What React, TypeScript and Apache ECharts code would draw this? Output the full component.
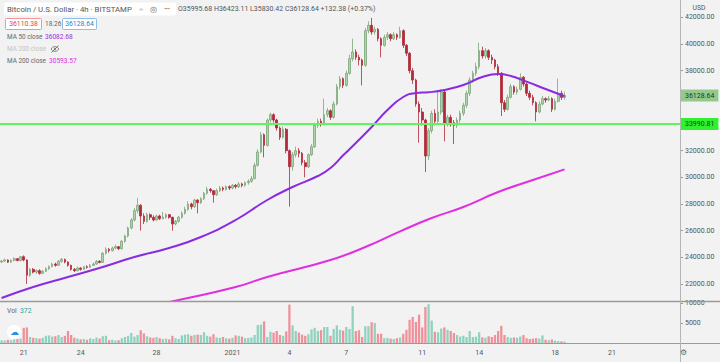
import React, { useEffect, useRef } from "react";
import * as echarts from "echarts";

// ---------- data ----------
const TOTAL_SLOTS = 215; // 4h slots shown on the time axis (incl. empty future space)
const TICK_SLOTS = [7, 25, 49, 73, 91, 109, 133, 151, 175, 193];
const TICK_LABELS = ["21", "24", "28", "2021", "4", "7", "11", "14", "18", "21"];
const PRICE_TICKS = [22000, 24000, 26000, 28000, 30000, 32000, 38000, 40000, 42000];
const VOLUME_TICKS = [5000, 10000];

// [open, close, low, high] per 4h candle
const CANDLES: number[][] = [
  [23650, 23720, 23580, 23800], [23720, 23800, 23650, 23900], [23800, 23640, 23580, 23850], [23640, 23780, 23600, 23850],
  [23780, 23900, 23700, 24000], [23900, 23760, 23700, 23950], [23760, 24050, 23700, 24100], [24050, 23800, 23700, 24150],
  [23800, 22650, 22000, 23850], [22650, 23100, 22550, 23200],
  [23100, 22900, 22800, 23200], [22900, 23000, 22750, 23100], [23000, 22800, 22700, 23100], [22800, 22950, 22750, 23050],
  [22950, 23150, 22900, 23250], [23150, 23300, 23050, 23400], [23300, 23500, 23250, 23600], [23500, 23400, 23300, 23600],
  [23400, 23700, 23350, 23800], [23700, 23850, 23600, 23950],
  [23850, 23650, 23550, 23900], [23650, 23400, 23300, 23700], [23400, 23100, 23000, 23450], [23100, 23000, 22900, 23200],
  [23000, 23200, 22950, 23300], [23200, 23100, 23000, 23250], [23100, 23300, 23050, 23350], [23300, 23250, 23150, 23400],
  [23250, 23400, 23200, 23500], [23400, 23500, 23350, 23600],
  [23500, 23700, 23450, 23800], [23700, 23620, 23550, 23780], [23620, 24300, 23600, 24400], [24300, 24600, 24200, 24750],
  [24600, 24500, 24350, 24700], [24500, 24700, 24450, 24800], [24700, 24800, 24600, 24950], [24800, 24650, 24550, 24850],
  [24650, 25200, 24600, 25300], [25200, 25600, 25100, 25700],
  [25600, 26200, 25500, 26300], [26200, 26800, 26100, 26950], [26800, 27500, 26700, 27700], [27500, 27900, 27300, 28450],
  [27900, 27100, 26000, 28000], [27100, 26700, 26500, 27300], [26700, 27200, 26600, 27350], [27200, 27000, 26800, 27300],
  [27000, 26800, 26700, 27150], [26800, 27100, 26750, 27200],
  [27100, 26900, 26800, 27200], [26900, 27000, 26850, 27400], [27000, 27200, 26900, 27300], [27200, 27000, 26900, 27250],
  [27000, 26500, 26000, 27050], [26500, 26700, 26400, 26800], [26700, 27000, 26600, 27100], [27000, 27300, 26900, 27450],
  [27300, 27600, 27200, 27800], [27600, 28000, 27500, 28200],
  [28000, 27800, 27600, 28100], [27800, 28300, 27700, 28400], [28300, 28100, 27300, 28350], [28100, 28400, 28000, 28500],
  [28400, 28800, 28300, 28900], [28800, 29100, 28700, 29300], [29100, 29000, 28850, 29200], [29000, 28700, 28100, 29050],
  [28700, 29000, 28600, 29150], [29000, 29200, 28900, 29350],
  [29200, 29100, 28950, 29300], [29100, 29300, 29000, 29400], [29300, 29200, 29050, 29400], [29200, 29400, 29100, 29500],
  [29400, 29300, 29150, 29500], [29300, 29500, 29200, 29650], [29500, 29400, 29250, 29600], [29400, 29600, 29300, 29700],
  [29600, 29700, 29450, 29850], [29700, 29900, 29600, 30100],
  [29900, 30900, 29850, 31100], [30900, 31900, 30800, 32100], [31900, 33200, 31800, 33400], [33200, 32400, 31500, 33300],
  [32400, 34300, 32300, 34400], [34300, 34700, 34100, 34850], [34700, 34300, 34100, 34800], [34300, 33700, 33500, 34400],
  [33700, 33000, 32800, 33800], [33000, 33600, 32900, 33800],
  [33600, 32000, 31800, 33700], [32000, 30800, 27800, 32100], [30800, 31700, 30500, 31900], [31700, 32000, 31500, 32300],
  [32000, 31800, 31500, 32200], [31800, 31100, 30900, 31900], [31100, 30800, 30000, 31300], [30800, 31700, 30700, 31800],
  [31700, 32300, 31600, 32500], [32300, 33900, 32200, 34100],
  [33900, 34200, 33700, 34400], [34200, 34000, 33800, 34400], [34000, 34700, 33900, 35900], [34700, 35000, 34500, 35200],
  [35000, 34500, 34300, 35100], [34500, 35500, 34400, 35700], [35500, 36800, 35400, 37000], [36800, 37400, 36600, 37600],
  [37400, 36900, 36700, 37500], [36900, 37800, 36800, 38000],
  [37800, 38900, 37700, 39200], [38900, 39400, 38700, 40400], [39400, 39000, 38800, 39600], [39000, 38800, 38400, 39200],
  [38800, 38400, 36900, 38900], [38400, 41000, 38300, 41200], [41000, 41400, 40800, 41700], [41400, 40900, 40700, 41950],
  [40900, 41100, 40700, 41300], [41100, 40400, 40200, 41200],
  [40400, 39900, 39000, 40500], [39900, 40500, 39800, 40700], [40500, 40700, 40300, 40900], [40700, 40400, 40200, 40800],
  [40400, 40700, 40300, 40900], [40700, 40500, 40300, 40800], [40500, 41000, 40400, 41300], [41000, 39900, 39700, 41100],
  [39900, 39300, 39100, 40000], [39300, 38000, 37800, 39400],
  [38000, 37300, 37000, 38200], [37300, 35500, 35300, 37400], [35500, 34900, 32600, 35700], [34900, 34300, 33900, 35200],
  [34300, 31600, 30400, 34400], [31600, 33500, 31300, 33700], [33500, 34800, 33300, 35000], [34800, 34200, 33900, 35100],
  [34200, 34900, 34000, 36500], [34900, 36400, 34700, 36600],
  [36400, 34000, 32700, 36500], [34000, 34500, 33800, 34700], [34500, 34100, 33800, 34700], [34100, 33900, 32500, 34300],
  [33900, 34300, 33700, 34500], [34300, 34800, 34100, 35000], [34800, 35400, 34600, 35600], [35400, 36300, 35200, 36500],
  [36300, 37300, 36100, 37500], [37300, 37800, 37100, 38000],
  [37800, 38300, 37600, 38600], [38300, 39500, 38100, 40100], [39500, 39100, 38900, 39800], [39100, 39500, 38900, 39700],
  [39500, 39000, 38800, 39600], [39000, 38800, 38500, 39200], [38800, 38300, 38100, 38900], [38300, 37800, 37600, 38500],
  [37800, 35600, 34600, 37900], [35600, 35100, 34900, 35800],
  [35100, 36000, 35000, 36200], [36000, 36800, 35900, 37000], [36800, 36400, 36200, 36900], [36400, 36600, 36200, 36800],
  [36600, 37500, 36500, 37800], [37500, 37000, 36800, 37600], [37000, 36300, 36100, 37100], [36300, 36000, 35800, 36500],
  [36000, 35600, 35400, 36200], [35600, 34900, 34200, 35700],
  [34900, 35500, 34800, 35700], [35500, 35900, 35400, 36100], [35900, 35800, 35600, 36000], [35800, 35900, 35700, 36100],
  [35900, 35100, 34900, 36000], [35100, 35700, 35000, 35900], [35700, 36300, 35600, 37400], [36300, 35996, 35800, 36500],
  [35996.26, 36128.64, 35830.42, 36423.11],
];

const VOLUMES = [
  700, 600, 800, 700, 900, 1000, 1100, 3800, 3900, 1500,
  1300, 1200, 1100, 1300, 1800, 1900, 1600, 1700, 2000, 1500,
  1800, 3000, 2000, 1300, 1100, 900, 1000, 800, 1200, 1000,
  1400, 1100, 1700, 1800, 700, 800, 600, 700, 1200, 1500,
  1800, 2500, 1600, 2000, 3200, 2400, 1700, 1400, 1300, 1500,
  1200, 1000, 1100, 900, 1800, 1200, 1000, 1900, 2100, 2200,
  1800, 2000, 2100, 2000, 2700, 1800, 1600, 2200, 1400, 1300,
  1500, 1200, 1100, 1300, 1900, 1800, 1600, 1200, 1300, 1400,
  2000, 4500, 4600, 5400, 1500, 2800, 2600, 3000, 2000, 1800,
  2900, 9600, 4400, 3000, 2600, 2100, 1800, 2200, 3400, 3800,
  3000, 3200, 4000, 4000, 1800, 3500, 4400, 3300, 3100, 4000,
  3500, 9200, 3000, 3200, 1500, 4200, 4200, 5200, 5000, 2300,
  2300, 1200, 1300, 1100, 1000, 1200, 1400, 2300, 3300, 5800,
  6500, 5250, 7100, 3900, 9000, 9700, 5600, 2800, 2700, 3600,
  3900, 3300, 3000, 2500, 2000, 1600, 1800, 1500, 3000, 1500,
  1600, 2700, 1400, 1300, 1700, 1500, 2000, 3000, 4300, 2000,
  1500, 1300, 1400, 1300, 1600, 2000, 1200, 1000, 1100, 1200,
  1100, 1900, 800, 700, 900, 600, 500, 400, 372,
];

const MA50_SLOTS = [0, 10, 21, 32, 42, 53, 63, 74, 84, 92, 100, 104, 108, 112, 117, 122, 127, 131, 135, 140, 146, 152, 157, 161, 166, 172, 178];
const MA50_VALUES = [20950, 21775, 22525, 23275, 24025, 24700, 25525, 26800, 28300, 29275, 30100, 30700, 31650, 32575, 33775, 35050, 36025, 36325, 36380, 36550, 36925, 37525, 37750, 37600, 37175, 36625, 36082.68];

const MA200_SLOTS = [46, 56, 74, 84, 104, 115, 126, 136, 146, 157, 168, 178];
const MA200_VALUES = [20300, 20800, 21775, 22525, 23800, 24775, 25950, 26950, 27775, 28900, 29800, 30593.57];

const SUPPORT_LEVEL = 33990.81;
const LAST_PRICE = 36128.64;
const BID_PRICE = 36110.38;
const SPREAD = 18.26;
const LAST_VOLUME = 372;
const OHLC_TEXT = "O35995.68 H36423.11 L35830.42 C36128.64 +132.38 (+0.37%)";

// ---------- style ----------
const BG = "#f2f2f2";
const FONT = "Roboto";
const UP = "#a9d6a3";
const UP_BORDER = "#7da57a";
const DOWN = "#b12a3b";
const VOL_UP = "#8fd3bf";
const VOL_DOWN = "#ef919a";
const MA50_COLOR = "#8a2be2";
const MA200_COLOR = "#e02ee0";

function txt(text: string, x: number, y: number, fill: string, size = 6.8, align = "left") {
  return {
    type: "text",
    x,
    y,
    z: 100,
    silent: true,
    style: {
      text,
      fill,
      font: `${size}px ${FONT}`,
      textAlign: align,
      align,
      textVerticalAlign: "middle",
      verticalAlign: "middle",
    },
  };
}

function buildOption(): any {
  const cats = Array.from({ length: TOTAL_SLOTS }, (_, i) => String(i));
  const volData = VOLUMES.map((v, i) => ({
    value: v,
    itemStyle: { color: CANDLES[i][1] >= CANDLES[i][0] ? VOL_UP : VOL_DOWN },
  }));
  const tagLabel = (value: number, bg: string) => ({
    show: true,
    position: "end",
    distance: 1,
    formatter: value.toFixed(2),
    backgroundColor: bg,
    color: "#1f3a1f",
    fontFamily: FONT,
    fontSize: 7,
    padding: [3, 4, 2, 4],
  });

  return {
    animation: false,
    backgroundColor: BG,
    grid: [
      { left: 0, right: 40, top: 0, height: 301 },
      { left: 0, right: 40, top: 302, height: 41 },
    ],
    xAxis: [
      {
        type: "category",
        gridIndex: 0,
        data: cats,
        boundaryGap: true,
        axisLine: { show: false },
        axisTick: { show: false },
        axisLabel: { show: false },
        splitLine: { show: false },
      },
      {
        type: "category",
        gridIndex: 1,
        data: cats,
        boundaryGap: true,
        axisLine: { show: false },
        axisTick: { show: false },
        splitLine: { show: false },
        axisLabel: {
          interval: (index: number) => TICK_SLOTS.includes(index),
          formatter: (_v: string, index: number) => {
            const k = TICK_SLOTS.indexOf(index);
            return k >= 0 ? TICK_LABELS[k] : "";
          },
          color: "#555",
          fontFamily: FONT,
          fontSize: 7,
          margin: 6,
        },
      },
    ],
    yAxis: [
      {
        type: "value",
        gridIndex: 0,
        position: "right",
        min: 20725,
        max: 43300,
        splitLine: { show: false },
        axisLine: { show: false },
        axisTick: { show: true, length: 3, lineStyle: { color: "#999" }, customValues: PRICE_TICKS },
        axisLabel: {
          customValues: PRICE_TICKS,
          formatter: (v: number) => v.toFixed(2),
          color: "#555",
          fontFamily: FONT,
          fontSize: 7,
          margin: 5,
        },
      },
      {
        type: "value",
        gridIndex: 1,
        position: "right",
        min: 0,
        max: 10250,
        splitLine: { show: false },
        axisLine: { show: false },
        axisTick: { show: true, length: 3, lineStyle: { color: "#999" }, customValues: VOLUME_TICKS },
        axisLabel: {
          customValues: VOLUME_TICKS,
          formatter: (v: number) => String(v),
          color: "#555",
          fontFamily: FONT,
          fontSize: 7,
          margin: 5,
        },
      },
    ],
    series: [
      {
        type: "candlestick",
        xAxisIndex: 0,
        yAxisIndex: 0,
        data: CANDLES,
        barWidth: "66%",
        itemStyle: {
          color: UP,
          color0: DOWN,
          borderColor: UP_BORDER,
          borderColor0: DOWN,
          borderWidth: 0.8,
        },
        markLine: {
          silent: true,
          symbol: ["none", "none"],
          animation: false,
          data: [
            {
              yAxis: SUPPORT_LEVEL,
              lineStyle: { color: "#5ef55e", width: 2, type: "solid" },
              label: tagLabel(SUPPORT_LEVEL, "#30f030"),
            },
          ],
        },
      },
      {
        // invisible carrier for the last-price tag on the price scale
        type: "line",
        xAxisIndex: 0,
        yAxisIndex: 0,
        data: [],
        silent: true,
        markLine: {
          silent: true,
          symbol: ["none", "none"],
          animation: false,
          data: [
            {
              yAxis: LAST_PRICE,
              lineStyle: { color: "rgba(0,0,0,0)", width: 1 },
              label: tagLabel(LAST_PRICE, "#93c98b"),
            },
          ],
        },
      },
      {
        type: "line",
        name: "MA 50",
        xAxisIndex: 0,
        yAxisIndex: 0,
        data: MA50_SLOTS.map((s, k) => [s, MA50_VALUES[k]]),
        smooth: 0.5,
        showSymbol: false,
        lineStyle: { color: MA50_COLOR, width: 2 },
        silent: true,
      },
      {
        type: "line",
        name: "MA 200",
        xAxisIndex: 0,
        yAxisIndex: 0,
        data: MA200_SLOTS.map((s, k) => [s, MA200_VALUES[k]]),
        smooth: 0.5,
        showSymbol: false,
        lineStyle: { color: MA200_COLOR, width: 2 },
        silent: true,
      },
      {
        type: "bar",
        xAxisIndex: 1,
        yAxisIndex: 1,
        data: volData,
        barWidth: "72%",
        silent: true,
      },
    ],
    graphic: [
      // pane separators and price-scale border
      { type: "line", z: 90, silent: true, shape: { x1: 0, y1: 301.5, x2: 720, y2: 301.5 }, style: { stroke: "#9a9a9a", lineWidth: 1.6 } },
      { type: "line", z: 90, silent: true, shape: { x1: 0, y1: 343.5, x2: 720, y2: 343.5 }, style: { stroke: "#9a9a9a", lineWidth: 1.2 } },
      { type: "line", z: 90, silent: true, shape: { x1: 680.5, y1: 0, x2: 680.5, y2: 362 }, style: { stroke: "#b5b5b5", lineWidth: 1 } },
      txt("USD", 699, 8, "#555", 6.8, "center"),
      txt("⚙", 683, 352, "#666", 8, "center"),
      // header
      { type: "rect", z: 100, silent: true, shape: { x: 4, y: 2.5, width: 172, height: 13, r: 2 }, style: { fill: "#ffffff" } },
      txt("Bitcoin / U.S. Dollar · 4h · BITSTAMP", 7, 9, "#555", 7.8),
      txt("≡", 141, 9, "#aaa", 7.5, "center"),
      txt("◎", 153, 9, "#666", 7.5, "center"),
      txt("•••", 167, 9, "#555", 5.5, "center"),
      txt(OHLC_TEXT, 178, 9, "#555", 7),
      // bid / spread / ask
      { type: "rect", z: 100, silent: true, shape: { x: 5.5, y: 18.5, width: 36, height: 11, r: 1 }, style: { fill: "#fff", stroke: "#eb7a83", lineWidth: 0.8 } },
      txt(BID_PRICE.toFixed(2), 23.5, 24, "#d9434f", 6.8, "center"),
      txt(SPREAD.toFixed(2), 45, 24, "#666", 6.5),
      { type: "rect", z: 100, silent: true, shape: { x: 62.5, y: 18.5, width: 34, height: 11, r: 1 }, style: { fill: "#fff", stroke: "#73aee6", lineWidth: 0.8 } },
      txt(LAST_PRICE.toFixed(2), 79.5, 24, "#2f80d0", 6.8, "center"),
      // indicator legend
      txt("MA 50 close", 7, 37, "#666", 6.4),
      txt(MA50_VALUES[MA50_VALUES.length - 1].toFixed(2), 45, 37, "#9b2fd9", 6.6),
      txt("MA 200 close", 7, 49, "#c4c4c4", 6.4),
      { type: "ellipse", z: 100, silent: true, shape: { cx: 55, cy: 49, rx: 3.6, ry: 2.3 }, style: { fill: "none", stroke: "#777", lineWidth: 0.9 } },
      { type: "circle", z: 100, silent: true, shape: { cx: 55, cy: 49, r: 1.1 }, style: { fill: "#777" } },
      { type: "line", z: 100, silent: true, shape: { x1: 51.5, y1: 52.5, x2: 58.5, y2: 45.5 }, style: { stroke: "#777", lineWidth: 0.9 } },
      txt("MA 200 close", 7, 61, "#666", 6.4),
      txt(MA200_VALUES[MA200_VALUES.length - 1].toFixed(2), 49, 61, "#e02ee0", 6.6),
      // volume legend
      txt("Vol", 7, 311, "#666", 6.8),
      txt(String(LAST_VOLUME), 20, 311, "#26a69a", 6.8),
      { type: "circle", z: 100, silent: true, shape: { cx: 14, cy: 332, r: 7 }, style: { fill: "#ffffff" } },
      txt("☁", 14, 332, "#2f8fe0", 9, "center"),
    ],
  };
}

export default function App() {
  const ref = useRef<HTMLDivElement>(null);
  useEffect(() => {
    if (!ref.current) return;
    const chart = echarts.init(ref.current, undefined, { renderer: "svg" });
    chart.setOption(buildOption());
    return () => chart.dispose();
  }, []);
  return (
    <div
      ref={ref}
      style={{ position: "fixed", left: 0, top: 0, width: 720, height: 362, background: BG }}
    />
  );
}
